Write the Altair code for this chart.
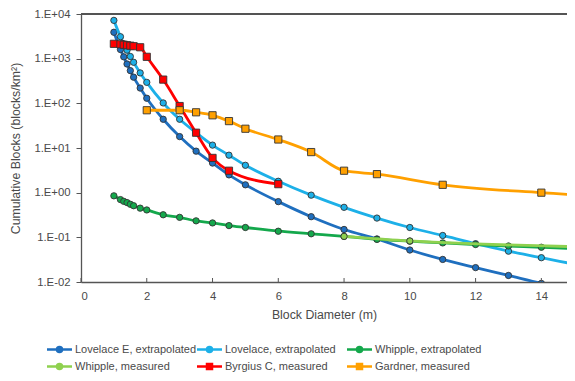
import altair as alt
import pandas as pd

# ---------------- data ----------------
series_names = [
    "Lovelace E, extrapolated",
    "Lovelace, extrapolated",
    "Whipple, extrapolated",
    "Whipple, measured",
    "Byrgius C, measured",
    "Gardner, measured",
]
series_colors = ["#1F6FBF", "#1DB0E8", "#14A84C", "#8FD14F", "#FF0000", "#FFA000"]
series_markers = ["circle", "circle", "circle", "circle", "square", "square"]

x_ext = [1.0, 1.2, 1.3, 1.4, 1.5, 1.6, 1.8, 2.0, 2.5, 3.0, 3.5, 4.0, 4.5, 5.0,
         6, 7, 8, 9, 10, 11, 12, 13, 14, 15]
lovelace_e = [3900, 1600, 1100, 760, 540, 385, 220, 130, 44, 18, 8.5, 4.6, 2.5, 1.5,
              0.63, 0.29, 0.15, 0.092, 0.052, 0.032, 0.021, 0.014, 0.0093, 0.0064]
lovelace = [7200, 3100, 2150, 1550, 1120, 830, 480, 295, 102, 44, 22, 11.6, 6.9, 4.1,
            1.8, 0.88, 0.47, 0.27, 0.166, 0.11, 0.072, 0.049, 0.035, 0.025]
whipple_ext = [0.85, 0.70, 0.64, 0.60, 0.55, 0.51, 0.45, 0.41, 0.32, 0.28, 0.234, 0.21,
               0.183, 0.166, 0.137, 0.12, 0.105, 0.090, 0.082, 0.075, 0.069, 0.064,
               0.060, 0.056]

x_whipple_meas = [8, 10, 20]
whipple_meas = [0.105, 0.083, 0.054]

x_byrgius = [1.0, 1.2, 1.3, 1.4, 1.5, 1.6, 1.8, 2.0, 2.5, 3.0, 3.5, 4.0, 4.5, 6.0]
byrgius = [2150, 2100, 2050, 2000, 1950, 1900, 1800, 1100, 340, 87, 22, 6.0, 3.1, 1.55]

x_gardner = [2, 3, 3.5, 4, 4.5, 5, 6, 7, 8, 9, 11, 14, 17]
gardner = [70, 70, 63, 54, 40, 27, 15.5, 8.1, 3.1, 2.6, 1.5, 1.0, 0.75]

x_ticks = [0, 2, 4, 6, 8, 10, 12, 14]
y_ticks = [0.01, 0.1, 1, 10, 100, 1000, 10000]

series_x = [x_ext, x_ext, x_ext, x_whipple_meas, x_byrgius, x_gardner]
series_y = [lovelace_e, lovelace, whipple_ext, whipple_meas, byrgius, gardner]

# ---------------- layout constants ----------------
W, H = 486, 268
X_MAX = 14.78
FONT = "Liberation Sans"
TXT = "#4a4a4a"
AX = "#555555"

frames = []
for name, xs, ys in zip(series_names, series_x, series_y):
    frames.append(pd.DataFrame({"series": name, "d": xs, "v": ys}))
df = pd.concat(frames, ignore_index=True)

x_enc = alt.X(
    "d:Q",
    scale=alt.Scale(domain=[0, X_MAX], nice=False, zero=False),
    axis=alt.Axis(
        values=x_ticks, title="Block Diameter (m)", grid=False, ticks=False,
        labelPadding=8, labelFont=FONT, labelFontSize=11.3, labelColor=TXT,
        titleFont=FONT, titleFontSize=12.3, titleFontWeight="normal", titleColor=TXT,
        titleY=26, domainColor=AX, domainWidth=1.3,
    ),
)
y_enc = alt.Y(
    "v:Q",
    scale=alt.Scale(type="log", domain=[0.01, 10000], nice=False),
    axis=alt.Axis(
        values=y_ticks,
        labelExpr="'1.E' + (datum.value >= 1 ? '+' : '-') + pad(toString(abs(round(log(datum.value) / LN10))), 2, '0', 'left')",
        title="Cumulative Blocks (blocks/km²)", grid=False, tickSize=5, tickColor=AX,
        labelPadding=6, labelFont=FONT, labelFontSize=11.3, labelColor=TXT,
        titleFont=FONT, titleFontSize=12.3, titleFontWeight="normal", titleColor=TXT,
        titleX=-59, domainColor=AX, domainWidth=1.3,
    ),
)

layers = []
for name, col, mk in zip(series_names, series_colors, series_markers):
    sub = alt.Chart(df).transform_filter(alt.datum.series == name)
    line = sub.mark_line(
        color=col, strokeWidth=2.8, interpolate="monotone", clip=True
    ).encode(x=x_enc, y=y_enc)
    pts = sub.mark_point(
        shape=mk, filled=True, fill=col, stroke="#333333", strokeWidth=0.9,
        size=40 if mk == "circle" else 52, opacity=1, clip=True,
    ).encode(x=x_enc, y=y_enc)
    layers += [line, pts]

# inward tick marks on the x axis
tick_df = pd.DataFrame({"d": x_ticks})
xticks_layer = alt.Chart(tick_df).mark_rule(color=AX, strokeWidth=1).encode(
    x=alt.X("d:Q"), y=alt.value(H - 4), y2=alt.value(H)
)

# top border of the plot area
top_line = alt.Chart(tick_df).mark_rule(color=AX, strokeWidth=1.3).encode(
    x=alt.value(0), x2=alt.value(W), y=alt.value(0)
)

# legend: line + marker symbols
circle_path = "M-2.5,0H2.5M0.5,0A0.5,0.5 0 1,1 -0.5,0A0.5,0.5 0 1,1 0.5,0Z"
square_path = "M-2.5,0H2.5M-0.5,-0.5H0.5V0.5H-0.5Z"
legend_paths = [circle_path if m == "circle" else square_path for m in series_markers]

leg = alt.Legend(
    title=None, orient="none", legendX=-28, legendY=329, columns=3,
    direction="horizontal", gridAlign="all", columnPadding=-5, rowPadding=2,
    labelFont=FONT, labelFontSize=11, labelColor=TXT, labelOffset=9,
    symbolSize=100, symbolStrokeWidth=2.5, symbolOpacity=1, padding=0,
)
legend_layer = alt.Chart(df).mark_point(
    filled=False, strokeWidth=2.5, clip=True, opacity=1
).encode(
    x=alt.value(-1000),
    y=alt.value(-1000),
    color=alt.Color("series:N", scale=alt.Scale(domain=series_names, range=series_colors), legend=leg),
    fill=alt.Fill("series:N", scale=alt.Scale(domain=series_names, range=series_colors), legend=leg),
    shape=alt.Shape("series:N", scale=alt.Scale(domain=series_names, range=legend_paths), legend=leg),
)

chart = alt.layer(*layers, xticks_layer, top_line, legend_layer).properties(
    width=W, height=H,
    padding={"left": 73, "top": 6, "right": 0, "bottom": 91},
    autosize=alt.AutoSizeParams(type="none"),
    background="white",
).configure_view(stroke=None)

chart.save("out.html", embed_options={"renderer": "svg", "actions": False})
